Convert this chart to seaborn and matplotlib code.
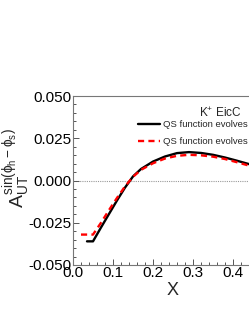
import matplotlib
matplotlib.use("Agg")
import matplotlib.pyplot as plt
import seaborn as sns
import pandas as pd
from matplotlib.ticker import MultipleLocator

# data
x_black = [0.035, 0.05, 0.07, 0.09, 0.11, 0.13, 0.15, 0.17, 0.20, 0.23, 0.26, 0.29, 0.32, 0.35, 0.38, 0.41, 0.44, 0.48]
y_black = [-0.036, -0.036, -0.0278, -0.0198, -0.0118, -0.0042, 0.0024, 0.0068, 0.0112, 0.0142, 0.0162, 0.0168, 0.0163, 0.0152, 0.0136, 0.0117, 0.0097, 0.0072]
x_red = [0.02, 0.05, 0.07, 0.09, 0.11, 0.13, 0.15, 0.17, 0.20, 0.23, 0.26, 0.29, 0.32, 0.35, 0.38, 0.41, 0.44, 0.48]
y_red = [-0.032, -0.032, -0.025, -0.0175, -0.0103, -0.0035, 0.0022, 0.0063, 0.0102, 0.0130, 0.0146, 0.0152, 0.0149, 0.0141, 0.0127, 0.0108, 0.0088, 0.0064]
label_black = "QS function evolves with Q"
label_red = "QS function evolves with Q, b"
x_ticks = [0.0, 0.1, 0.2, 0.3, 0.4]
y_ticks = [-0.050, -0.025, 0.000, 0.025, 0.050]

sns.set_style("ticks")
plt.rcParams['font.family'] = ['Liberation Sans', 'DejaVu Sans']
plt.rcParams['mathtext.fontset'] = 'custom'
plt.rcParams['mathtext.rm'] = 'Liberation Sans'
plt.rcParams['mathtext.it'] = 'Liberation Sans:italic'

fig = plt.figure(figsize=(2.49, 3.23), dpi=100)
ax = fig.add_axes([73/249, 58/323, 200/249, 169/323])

df_b = pd.DataFrame({"x": x_black, "y": y_black})
df_r = pd.DataFrame({"x": x_red, "y": y_red})
sns.lineplot(data=df_b, x="x", y="y", ax=ax, color="black", lw=1.7, label=label_black, sort=False)
sns.lineplot(data=df_r, x="x", y="y", ax=ax, color="#ff0000", lw=1.7, ls=(0, (2.6, 1.8)), label=label_red, sort=False)
ax.axhline(0, color="#999999", lw=0.8, ls=(0, (1, 1)), zorder=0)

ax.set_xlim(0, 0.5)
ax.set_ylim(-0.05, 0.05)
ax.set_xticks(x_ticks)
ax.set_yticks(y_ticks)
ax.set_xticklabels([f"{v:.1f}" for v in x_ticks])
ax.set_yticklabels([f"{v:.3f}" for v in y_ticks])
ax.xaxis.set_minor_locator(MultipleLocator(0.02))
ax.yaxis.set_minor_locator(MultipleLocator(0.005))
ax.tick_params(which='both', direction='in', labelsize=11, pad=1, colors='#555555', labelcolor='black')
ax.tick_params(which='major', length=4, width=0.7)
ax.tick_params(which='minor', length=2.5, width=0.7)
for s in ['left', 'bottom', 'top']:
    ax.spines[s].set_color('#777777')
    ax.spines[s].set_linewidth(0.8)
ax.spines['right'].set_visible(False)

ax.set_xlabel("X", fontsize=13, labelpad=1)
ax.set_ylabel(r"$\mathrm{A}_{\mathrm{UT}}^{\mathrm{sin(\phi_h-\phi_s)}}$", fontsize=14)
ax.yaxis.set_label_coords(-0.2, 0.575)

ax.text(0.63, 0.90, r"K$^{+}$ EicC", transform=ax.transAxes, fontsize=8.5, ha='left', va='center')
leg = ax.legend(loc='upper left', bbox_to_anchor=(0.305, 0.88), frameon=False, fontsize=6.8,
                handlelength=2.3, handletextpad=0.4, labelspacing=0.85, borderaxespad=0)

fig.savefig("out.png", dpi=100)
